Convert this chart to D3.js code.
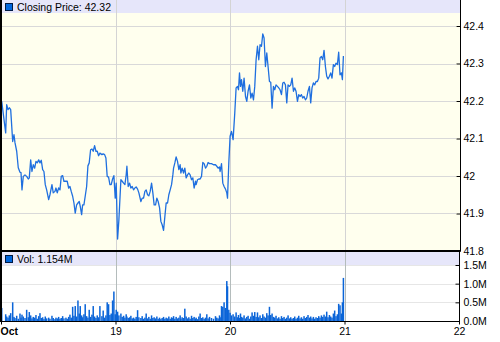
<!DOCTYPE html>
<html>
<head>
<meta charset="utf-8">
<script src="https://cdn.jsdelivr.net/npm/d3@7"></script>
<style>
  body { margin: 0; background: #fff; }
  text { font-family: "Liberation Sans", Arial, sans-serif; font-size: 10.5px; fill: #000; }
</style>
</head>
<body>
<div id="chart"></div>
<script>
// hours after Oct 18 00:00
var hours = [
  0.15,0.98,1.19,1.47,1.74,2.03,2.45,2.72,2.93,3.29,
  3.62,3.98,4.19,4.40,4.67,5.03,5.38,5.72,5.93,6.22,
  6.49,6.76,7.06,7.33,7.60,7.90,8.17,8.44,8.73,9.00,
  9.28,9.57,9.99,10.26,10.68,10.95,11.31,11.52,11.79,12.08,
  12.36,12.63,12.92,13.19,13.61,13.88,14.18,14.45,14.72,15.02,
  15.29,15.56,15.85,16.13,16.40,16.61,16.90,17.11,17.38,17.65,
  17.95,18.22,18.49,18.78,19.06,19.33,19.62,19.90,20.17,20.46,
  20.73,21.15,21.42,21.72,21.99,22.26,22.55,22.83,23.10,23.39,
  23.66,23.94,24.15,24.44,24.71,25.13,25.40,25.70,25.97,26.24,
  26.39,26.66,26.95,27.22,27.50,27.79,28.06,28.33,28.63,28.90,
  29.32,29.59,29.88,30.16,30.43,30.72,30.99,31.27,31.56,31.83,
  32.10,32.40,32.67,32.94,33.24,33.51,33.78,34.07,34.35,34.62,
  34.91,35.18,35.46,35.75,36.02,36.17,36.44,36.71,37.00,37.28,
  37.55,37.70,37.97,38.26,38.53,38.81,39.10,39.37,39.64,39.94,
  40.21,40.48,40.77,40.90,41.19,41.47,41.74,42.03,42.30,42.58,
  42.87,43.14,43.41,43.71,44.12,44.54,44.96,45.23,45.51,45.80,
  45.93,46.22,46.49,46.76,47.06,47.33,47.48,47.75,48.02,48.31,
  48.65,49.00,49.28,49.57,49.78,49.99,50.20,50.41,50.68,50.95,
  51.25,51.52,51.79,52.08,52.36,52.63,52.92,53.19,53.47,53.76,
  54.03,54.30,54.60,54.87,55.14,55.43,55.71,55.98,56.27,56.54,
  56.82,57.11,57.38,57.65,57.95,58.22,58.49,58.79,59.06,59.33,
  59.62,59.90,60.17,60.46,60.73,61.01,61.30,61.57,61.84,62.14,
  62.41,62.68,62.97,63.24,63.52,63.81,64.08,64.35,64.65,64.92,
  65.19,65.48,65.76,66.03,66.32,66.60,66.87,67.16,67.44,67.71,
  68.00,68.27,68.54,68.84,69.11,69.38,69.67,69.94,70.22,70.51,
  70.78,71.06,71.35,71.56,71.77
];

var closes = [
  42.199,42.115,42.19,42.177,42.182,42.177,42.092,42.11,42.089,42.066,
  42.022,42.01,42.009,41.963,41.999,42.003,41.999,41.992,41.995,42.043,
  42.012,42.03,42.021,42.039,42.035,42.043,42.035,42.042,42.017,42.012,
  41.977,41.963,41.937,41.95,41.977,41.955,41.959,41.968,41.955,41.968,
  41.963,41.999,42.001,41.986,41.986,41.986,41.968,41.972,41.959,41.946,
  41.928,41.901,41.923,41.928,41.932,41.919,41.897,41.923,41.923,41.946,
  41.972,42.027,42.035,42.07,42.072,42.066,42.081,42.066,42.066,42.054,
  42.061,42.057,42.059,42.057,42.048,41.999,41.997,41.977,41.977,41.992,
  42.001,41.941,41.981,41.832,41.883,41.99,41.986,41.981,41.977,42.003,
  42.026,41.972,41.981,41.968,41.972,41.963,41.968,41.971,41.965,41.955,
  41.932,41.941,41.941,41.959,41.963,41.95,41.947,41.959,41.981,41.955,
  41.923,41.923,41.941,41.932,41.915,41.879,41.87,41.855,41.892,41.928,
  41.928,41.95,41.963,41.977,42.003,42.021,42.035,42.051,42.039,42.017,
  42.03,42.008,42.021,42.008,42.021,41.995,42.003,42.008,42.003,41.99,
  41.995,41.968,41.986,41.977,41.99,41.992,41.992,41.999,42.036,42.033,
  42.021,42.026,42.036,42.033,42.033,42.03,42.03,42.026,42.021,42.024,
  42.012,42.033,41.981,41.972,41.965,41.955,41.941,42.035,42.106,42.119,
  42.097,42.168,42.235,42.239,42.23,42.275,42.239,42.257,42.226,42.261,
  42.212,42.199,42.226,42.243,42.208,42.221,42.203,42.239,42.31,42.346,
  42.31,42.35,42.346,42.379,42.368,42.292,42.328,42.292,42.252,42.25,
  42.181,42.239,42.23,42.243,42.239,42.235,42.23,42.217,42.248,42.25,
  42.243,42.195,42.243,42.239,42.243,42.261,42.226,42.235,42.226,42.199,
  42.217,42.212,42.217,42.208,42.212,42.203,42.208,42.226,42.239,42.195,
  42.235,42.248,42.243,42.252,42.252,42.261,42.315,42.319,42.31,42.335,
  42.292,42.266,42.259,42.266,42.275,42.261,42.297,42.292,42.301,42.297,
  42.33,42.27,42.275,42.257,42.32
];

// volume in thousands
var volumes = [
  350,180,120,90,150,210,500,110,80,140,
  60,200,90,170,120,80,300,100,240,150,
  70,110,90,160,60,130,210,80,100,50,
  120,70,90,60,140,80,50,90,70,110,
  60,80,130,70,90,60,110,170,90,380,
  140,400,120,550,200,400,150,100,180,450,
  130,90,300,110,170,400,120,80,150,100,
  400,130,280,90,150,500,450,160,200,550,
  790,180,300,250,150,200,110,140,90,180,
  120,80,100,140,70,90,60,110,290,100,
  80,130,60,90,200,70,110,60,150,80,
  100,70,120,60,90,50,80,110,60,90,
  70,120,60,100,80,130,60,110,70,90,
  150,60,100,80,330,120,70,100,60,140,
  80,110,60,90,50,120,200,80,100,60,
  90,180,70,110,80,60,130,90,70,150,
  100,400,380,500,350,1070,930,300,220,150,
  180,120,230,100,160,80,200,110,90,150,
  70,110,140,60,120,230,140,240,110,230,
  100,150,80,180,120,90,210,150,380,160,
  200,110,90,140,70,100,60,130,80,110,
  60,90,150,70,100,60,80,120,60,90,
  140,70,100,60,130,80,110,160,90,120,
  70,110,60,100,80,130,90,150,110,170,
  120,250,100,160,120,90,200,280,130,180,
  460,420,200,500,1154
];

var dayLabels = ["Oct", "19", "20", "21", "22"];
var priceTicks = [41.8, 41.9, 42, 42.1, 42.2, 42.3, 42.4];
var volTicks = [0, 500, 1000, 1500];
var closeLabel = "Closing Price: 42.32";
var volLabel = "Vol: 1.154M";

var W = 500, H = 342;
var left = 1, right = 460;
var pTop = 0, pBottom = 251;
var vTop = 252, vBottom = 321;
var bandH = 13;

var t0 = new Date(2010, 9, 18);
var data = hours.map(function (h, i) {
  return { date: new Date(t0.getTime() + h * 3600000), close: closes[i], vol: volumes[i] };
});

var x = d3.scaleTime()
  .domain([t0, new Date(2010, 9, 22)])
  .range([left, right - 1]);

var yP = d3.scaleLinear().domain([41.8, 42.4]).range([251, 26]);
var yV = d3.scaleLinear().domain([0, 1500]).range([vBottom, 265]);

var svg = d3.select("#chart").append("svg")
  .attr("width", W)
  .attr("height", H);

// panel backgrounds
svg.append("rect").attr("x", left).attr("y", pTop)
  .attr("width", right - left).attr("height", pBottom - pTop)
  .attr("fill", "#ffffee");
svg.append("rect").attr("x", left).attr("y", pTop)
  .attr("width", right - left).attr("height", bandH)
  .attr("fill", "#e6e6fa");
svg.append("rect").attr("x", left).attr("y", vTop)
  .attr("width", right - left).attr("height", vBottom - vTop)
  .attr("fill", "#fff");
svg.append("rect").attr("x", left).attr("y", vTop)
  .attr("width", right - left).attr("height", bandH)
  .attr("fill", "#e6e6fa");

var dayTicks = x.ticks(d3.timeDay.every(1));

// grids
svg.append("g").selectAll("line")
  .data(priceTicks.slice(1))
  .join("line")
  .attr("x1", left).attr("x2", right - 4)
  .attr("y1", d => Math.round(yP(d)) + 0.5).attr("y2", d => Math.round(yP(d)) + 0.5)
  .attr("stroke", "#d9d9d9");

svg.append("g").selectAll("line")
  .data(volTicks.slice(1))
  .join("line")
  .attr("x1", left).attr("x2", right - 4)
  .attr("y1", d => Math.round(yV(d)) + 0.5).attr("y2", d => Math.round(yV(d)) + 0.5)
  .attr("stroke", "#e6e6e6");

svg.append("g").selectAll("line")
  .data(dayTicks.slice(1, -1))
  .join("line")
  .attr("x1", d => Math.round(x(d)) + 0.5).attr("x2", d => Math.round(x(d)) + 0.5)
  .attr("y1", pTop).attr("y2", pBottom)
  .attr("stroke", "#d4d4d4");

svg.append("g").selectAll("line")
  .data(dayTicks.slice(1, -1))
  .join("line")
  .attr("x1", d => Math.round(x(d)) + 0.5).attr("x2", d => Math.round(x(d)) + 0.5)
  .attr("y1", vTop).attr("y2", vBottom)
  .attr("stroke", "#b4bcbc");

// price line
var line = d3.line()
  .x(d => x(d.date))
  .y(d => yP(d.close));

svg.append("path")
  .datum(data)
  .attr("fill", "none")
  .attr("stroke", "#1f6fdf")
  .attr("stroke-width", 1.3)
  .attr("stroke-linejoin", "round")
  .attr("d", line);

// volume bars
svg.append("g").selectAll("rect")
  .data(data)
  .join("rect")
  .attr("x", d => x(d.date) - 0.75)
  .attr("width", 1.5)
  .attr("y", d => yV(d.vol))
  .attr("height", d => vBottom - yV(d.vol))
  .attr("fill", "#0a64d8");

// legends
function legend(y0, label) {
  svg.append("rect")
    .attr("x", 5.5).attr("y", y0 + 3.5)
    .attr("width", 7).attr("height", 7)
    .attr("fill", "#0066dd")
    .attr("stroke", "#001a44");
  svg.append("text")
    .attr("x", 17).attr("y", y0 + 10.5)
    .text(label);
}
legend(pTop, closeLabel);
legend(vTop, volLabel);

// frame lines
svg.append("line").attr("x1", 1).attr("x2", 1).attr("y1", 0).attr("y2", vBottom)
  .attr("stroke", "#000").attr("stroke-width", 2);
svg.append("line").attr("x1", 0).attr("x2", right + 0.5).attr("y1", 251).attr("y2", 251)
  .attr("stroke", "#000").attr("stroke-width", 2);

// right price axis
var axP = svg.append("g")
  .attr("transform", "translate(" + (right + 0.5) + ",0)")
  .call(d3.axisRight(yP).tickValues(priceTicks).tickSize(0).tickPadding(3)
    .tickFormat(d => d3.format("")(+d.toFixed(1))));
axP.select(".domain").remove();
axP.selectAll("text").attr("font-size", null).attr("font-family", null);
axP.selectAll(".tick").append("line").attr("x1", -4).attr("x2", 0).attr("stroke", "#000");

var axV = svg.append("g")
  .attr("transform", "translate(" + (right - 0.5) + ",0)")
  .call(d3.axisRight(yV).tickValues(volTicks).tickSize(0).tickPadding(4)
    .tickFormat(d => (d / 1000).toFixed(1) + "M"));
axV.select(".domain").remove();
axV.selectAll("text").attr("font-size", null).attr("font-family", null);
axV.selectAll(".tick").append("line").attr("x1", -4).attr("x2", 0).attr("stroke", "#000");

svg.append("line").attr("x1", right + 0.5).attr("x2", right + 0.5).attr("y1", 0).attr("y2", 251)
  .attr("stroke", "#000");
svg.append("line").attr("x1", right - 0.5).attr("x2", right - 0.5).attr("y1", 251).attr("y2", vBottom + 2)
  .attr("stroke", "#000");

// bottom time axis
var axX = svg.append("g")
  .attr("transform", "translate(0," + (vBottom + 0.5) + ")")
  .call(d3.axisBottom(x).tickValues(dayTicks).tickSize(3).tickSizeOuter(0).tickPadding(3)
    .tickFormat((d, i) => dayLabels[i]));
axX.select(".domain").attr("d", "M0,0H" + (right));
axX.selectAll("text").attr("font-size", null).attr("font-family", null);
axX.selectAll(".tick").filter((d, i) => i === 0).select("text")
  .attr("text-anchor", "start").attr("x", -1).attr("font-weight", "bold");
</script>
</body>
</html>
